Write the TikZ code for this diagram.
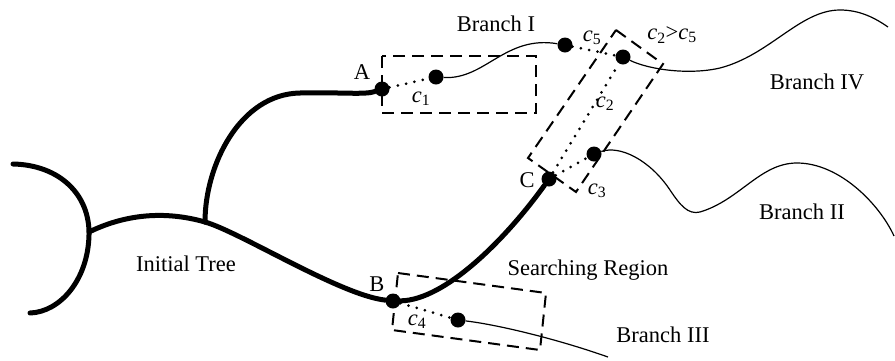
\documentclass[tikz,border=0pt]{standalone}
\usepackage{fontspec}
\setmainfont{Liberation Serif}
\usepackage{tikz}
\usetikzlibrary{positioning, calc}

\tikzset{
  tree/.style={line width=5pt, line cap=round},
  twig/.style={line width=1.2pt},
  dot/.style={circle, fill=black, inner sep=0pt, minimum size=15pt},
  link/.style={line width=3pt, line cap=round, dash pattern=on 0pt off 8.5pt},
  region/.style={line width=2pt, dash pattern=on 12pt off 7pt},
  lbl/.style={inner sep=0pt, font=\fontsize{22.5}{27}\selectfont},
}
\newcommand{\cidx}[2]{\textit{#1}\textsubscript{#2}}

\begin{document}
\begin{tikzpicture}[x=1pt,y=1pt,yscale=-1,xscale=1]
        \useasboundingbox (0,0) rectangle (895,360);

        %Points
        \node[dot] (A) at (382,89) {};
        \node[dot] (P1) at (436,77) {};
        \node[dot] (P5) at (565,45) {};
        \node[dot] (P2) at (623,57) {};
        \node[dot] (P3) at (594,154) {};
        \node[dot] (C) at (549,179) {};
        \node[dot] (B) at (393,301) {};
        \node[dot] (P4) at (458,320) {};
        \coordinate (L1) at (13,164);
        \coordinate (L2) at (30,313);
        \coordinate (J1) at (89,232);
        \coordinate (J2) at (205,222);
        \coordinate (E4) at (888,27);
        \coordinate (E2) at (894,236);
        \coordinate (E3) at (608,357);

        %Searching regions
        \draw[region] (382,56) rectangle (536,113);
        \draw[region] (616,30) -- (663,64) -- (576,192) -- (528,158) -- cycle;
        \draw[region] (398,273) -- (546,293) -- (540,350) -- (392,330) -- cycle;

        %Initial tree
        \draw[tree] (L1) .. controls (60,165) and (90,195) .. (89,235) .. controls (88,280) and (60,312) .. (L2);
        \draw[tree] (J1) .. controls (130,212) and (170,212) .. (J2);
        \draw[tree] (J2) .. controls (240,232) and (340,295) .. (B);
        \draw[tree] (B) .. controls (445,300) and (505,240) .. (C);
        \draw[tree] (J2) .. controls (205,165) and (240,94) .. (300,93) .. controls (340,92) and (365,95) .. (A);

        %Dotted links
        \draw[link] (A) -- (P1);
        \draw[link] (C) -- (P2);
        \draw[link] (C) -- (P3);
        \draw[link] (P5) -- (P2);
        \draw[link] (B) -- (P4);

        %Branches
        \draw[twig] (P1) .. controls (485,80) and (505,35) .. (P5);
        \draw[twig] (P2) .. controls (650,70) and (690,75) .. (720,68) .. controls (770,55) and (800,10) .. (840,10) .. controls (860,10) and (875,18) .. (E4);
        \draw[twig] (P3) .. controls (620,145) and (650,160) .. (670,190) .. controls (680,205) and (688,215) .. (700,212) .. controls (740,200) and (760,163) .. (797,163) .. controls (840,163) and (880,205) .. (E2);
        \draw[twig] (P4) .. controls (500,325) and (560,340) .. (E3);

        %Labels
        \node[lbl] (labA) at (362,72) {A};
        \node[lbl] (labB) at (377,284) {B};
        \node[lbl] (labC) at (527,180) {C};
        \node[lbl] (labc1) at (421,99) {\cidx{c}{1}};
        \node[lbl] (labc2) at (605,104) {\cidx{c}{2}};
        \node[lbl] (labc3) at (597,191) {\cidx{c}{3}};
        \node[lbl] (labc4) at (417,322) {\cidx{c}{4}};
        \node[lbl] (labc5) at (592,38) {\cidx{c}{5}};
        \node[lbl] (labcmp) at (672,35) {\cidx{c}{2}>\cidx{c}{5}};
        \node[lbl] (labI) at (496,24) {Branch I};
        \node[lbl] (labII) at (802,212) {Branch II};
        \node[lbl] (labIII) at (663,335) {Branch III};
        \node[lbl] (labIV) at (817,82) {Branch IV};
        \node[lbl] (labtree) at (186,264) {Initial Tree};
        \node[lbl] (labreg) at (588,270) {Searching Region};

    \end{tikzpicture}
\end{document}
